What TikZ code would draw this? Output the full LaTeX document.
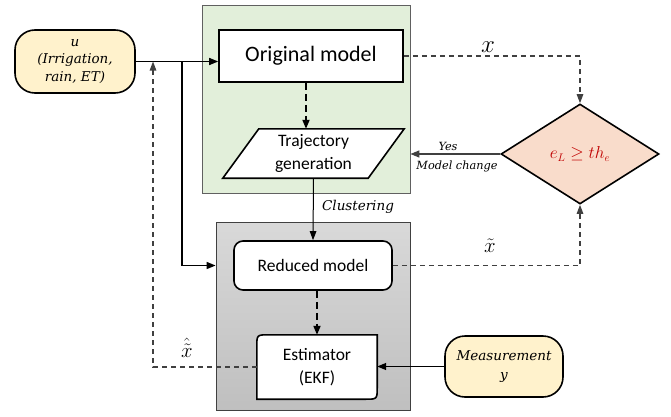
\documentclass[tikz,border=0pt]{standalone}
\usepackage{fontspec}
\newfontfamily\calfont{Carlito}
\newfontfamily\itfont{DejaVu Serif}
\usetikzlibrary{arrows.meta,shapes.geometric,calc}
\definecolor{greenbg}{HTML}{E2EFDA}
\definecolor{yellowbg}{HTML}{FFF2CC}
\definecolor{peach}{HTML}{F9DCCB}
\definecolor{redtxt}{HTML}{C00000}
\definecolor{darkline}{HTML}{404040}
\tikzset{
  boxline/.style={draw=black, line width=1.6pt},
  sanslarge/.style={font=\calfont\fontsize{22}{26}\selectfont},
  sansmid/.style={font=\calfont\fontsize{17.5}{22.5}\selectfont, align=center},
  itlabel/.style={font=\itfont\itshape\fontsize{13.5}{17.5}\selectfont, align=center},
  itsmall/.style={font=\itfont\itshape\fontsize{11.3}{14}\selectfont},
  arr/.style={draw=black, line width=1.4pt, -{Triangle[length=9pt,width=7pt]}},
  thinarr/.style={draw=black, line width=1pt, -{Triangle[length=9pt,width=6.5pt]}},
  dasharr/.style={draw=darkline, line width=1.2pt, dash pattern=on 5pt off 4pt, -{Triangle[length=9pt,width=6.5pt]}},
  thickdash/.style={draw=black, line width=1.8pt, dash pattern=on 7pt off 4pt, -{Triangle[length=9pt,width=7pt]}},
}
\begin{document}
\begin{tikzpicture}[x=1pt,y=1pt]
\useasboundingbox (0,0) rectangle (671,416);
% background panels
\node[draw=gray!75!black, line width=0.8pt, fill=greenbg, minimum width=208, minimum height=188, inner sep=0] (green) at (306,317) {};
\node[draw=darkline, line width=0.8pt, top color=gray!30, bottom color=gray!50, minimum width=194, minimum height=188, inner sep=0] (gray) at (313,100) {};
% original model
\node[boxline, fill=white, minimum width=184, minimum height=52, inner sep=0, sanslarge] (orig) at (311,360) {Original model};
% trajectory generation
\node[minimum width=181, minimum height=49, inner sep=0] (traj) at (313.5,262.5) {};
\draw[boxline, fill=white] (traj.south west) -- ([xshift=36]traj.north west) -- (traj.north east) -- ([xshift=-36]traj.south east) -- cycle;
\node[sansmid] (trajtxt) at (traj.center) {Trajectory\\generation};
% decision diamond
\node[diamond, boxline, fill=peach, minimum width=158, minimum height=100, inner sep=0, text=redtxt, font=\fontsize{16}{16}\selectfont] (dia) at (580,262) {$e_L \geq th_e$};
% reduced model
\node[boxline, fill=white, rounded corners=9, minimum width=158, minimum height=49, inner sep=0, sansmid] (red) at (313,150.5) {Reduced model};
% estimator
\node[minimum width=120, minimum height=64, inner sep=0] (est) at (317,49) {};
\draw[boxline, fill=white] (est.south west) -- ([yshift=-12]est.north west) .. controls (est.north west) .. ([xshift=12]est.north west) -- (est.north east) -- ([yshift=12]est.south east) .. controls (est.south east) .. ([xshift=-12]est.south east) -- cycle;
\node[sansmid] (esttxt) at (est.center) {Estimator\\(EKF)};
% input u
\node[boxline, fill=yellowbg, rounded corners=20, minimum width=120, minimum height=63, inner sep=0, itlabel] (u) at (75,354.5) {u\\(Irrigation,\\rain, ET)};
% measurement
\node[boxline, fill=yellowbg, rounded corners=20, minimum width=118, minimum height=61, inner sep=0, font=\itfont\itshape\fontsize{13.5}{19}\selectfont, align=center] (meas) at (504,49.5) {Measurement\\y};
% coordinates
\coordinate (br) at (182,354.5);
\coordinate (fb) at (153,354.5);
% connectors
\draw[arr] (u.east) -- (u.east -| orig.west);
\draw[arr] (br) |- (red -| gray.west);
\draw[dasharr] (est.west) -| (fb);
\draw[dasharr] (orig.east) -| (dia.north);
\draw[dasharr] (red.east) -| (dia.south);
\draw[thickdash] ([xshift=-5]orig.south) -- ([xshift=-5]orig.south |- traj.north);
\draw[thickdash] (red.south -| est.north) -- (est.north);
\draw[arr, draw=darkline] (dia.west) -- (dia.west -| green.east);
\draw[thinarr] (traj.south) -- (red.north);
\draw[arr] (meas.west) -- (meas.west -| est.east);
% labels
\node[font=\fontsize{24}{24}\selectfont] (lx) at (488,369) {$x$};
\node[font=\fontsize{22}{22}\selectfont] (lxt) at (490,170) {$\tilde{x}$};
\node[font=\fontsize{22}{22}\selectfont] (lxh) at (187,68) {$\hat{\tilde{x}}$};
\node[itsmall] (yes) at (448,270) {Yes};
\node[itsmall] (mc) at (457,250) {Model change};
\node[itlabel] (cl) at (358,209) {Clustering};
\end{tikzpicture}
\end{document}
